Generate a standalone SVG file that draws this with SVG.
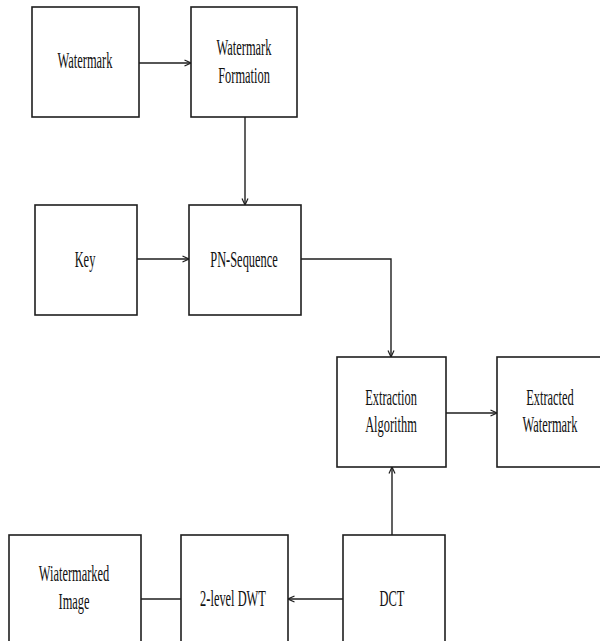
<svg xmlns="http://www.w3.org/2000/svg" width="600" height="641" viewBox="0 0 600 641">
<style>
.box{fill:#fff;stroke:#1e1e1e;stroke-width:1.6}
.lbl{font-family:"Liberation Serif","Times New Roman",serif;font-size:23px;fill:#111;text-anchor:middle}
.ln{fill:none;stroke:#1e1e1e;stroke-width:1.4}
</style>
<defs>
<marker id="ah" viewBox="0 0 8 8" refX="7.5" refY="4" markerWidth="8" markerHeight="8" markerUnits="userSpaceOnUse" orient="auto">
<path d="M1,1 L7.5,4 L1,7" fill="none" stroke="#1e1e1e" stroke-width="1.2"/>
</marker>
</defs>
<rect width="600" height="641" fill="#fff"/>
<g id="connectors">
<line class="ln" x1="139" y1="63" x2="191" y2="63" marker-end="url(#ah)"/>
<line class="ln" x1="245" y1="117" x2="245" y2="205" marker-end="url(#ah)"/>
<line class="ln" x1="137" y1="259" x2="189" y2="259" marker-end="url(#ah)"/>
<polyline class="ln" points="301,259 391,259 391,357" marker-end="url(#ah)"/>
<line class="ln" x1="444" y1="413" x2="497" y2="413" marker-end="url(#ah)"/>
<line class="ln" x1="392" y1="535" x2="392" y2="467" marker-end="url(#ah)"/>
<line class="ln" x1="343" y1="599" x2="288" y2="599" marker-end="url(#ah)"/>
<line class="ln" x1="141" y1="599" x2="181" y2="599"/>
</g>
<g id="watermark">
<rect class="box" x="32" y="7" width="107" height="110"/>
<text class="lbl" transform="translate(85,68) scale(0.54,1)">Watermark</text>
</g>
<g id="watermark-formation">
<rect class="box" x="191" y="7" width="106" height="110"/>
<text class="lbl" transform="translate(244,55) scale(0.54,1)">Watermark</text>
<text class="lbl" transform="translate(244,83) scale(0.54,1)">Formation</text>
</g>
<g id="key">
<rect class="box" x="35" y="205" width="102" height="110"/>
<text class="lbl" transform="translate(85,267) scale(0.54,1)">Key</text>
</g>
<g id="pn-sequence">
<rect class="box" x="189" y="205" width="112" height="110"/>
<text class="lbl" transform="translate(244,267) scale(0.54,1)">PN-Sequence</text>
</g>
<g id="extraction-algorithm">
<rect class="box" x="337" y="357" width="109" height="110"/>
<text class="lbl" transform="translate(391,405) scale(0.54,1)">Extraction</text>
<text class="lbl" transform="translate(391,432) scale(0.54,1)">Algorithm</text>
</g>
<g id="extracted-watermark">
<rect class="box" x="497" y="357" width="106" height="110"/>
<text class="lbl" transform="translate(550,405) scale(0.54,1)">Extracted</text>
<text class="lbl" transform="translate(550,432) scale(0.54,1)">Watermark</text>
</g>
<g id="watermarked-image">
<rect class="box" x="9" y="535" width="132" height="120"/>
<text class="lbl" transform="translate(74,581) scale(0.54,1)">Wiatermarked</text>
<text class="lbl" transform="translate(74,609) scale(0.54,1)">Image</text>
</g>
<g id="dwt">
<rect class="box" x="181" y="535" width="107" height="120"/>
<text class="lbl" transform="translate(233,606) scale(0.54,1)">2-level DWT</text>
</g>
<g id="dct">
<rect class="box" x="343" y="535" width="102" height="120"/>
<text class="lbl" transform="translate(392,606) scale(0.54,1)">DCT</text>
</g>
</svg>
